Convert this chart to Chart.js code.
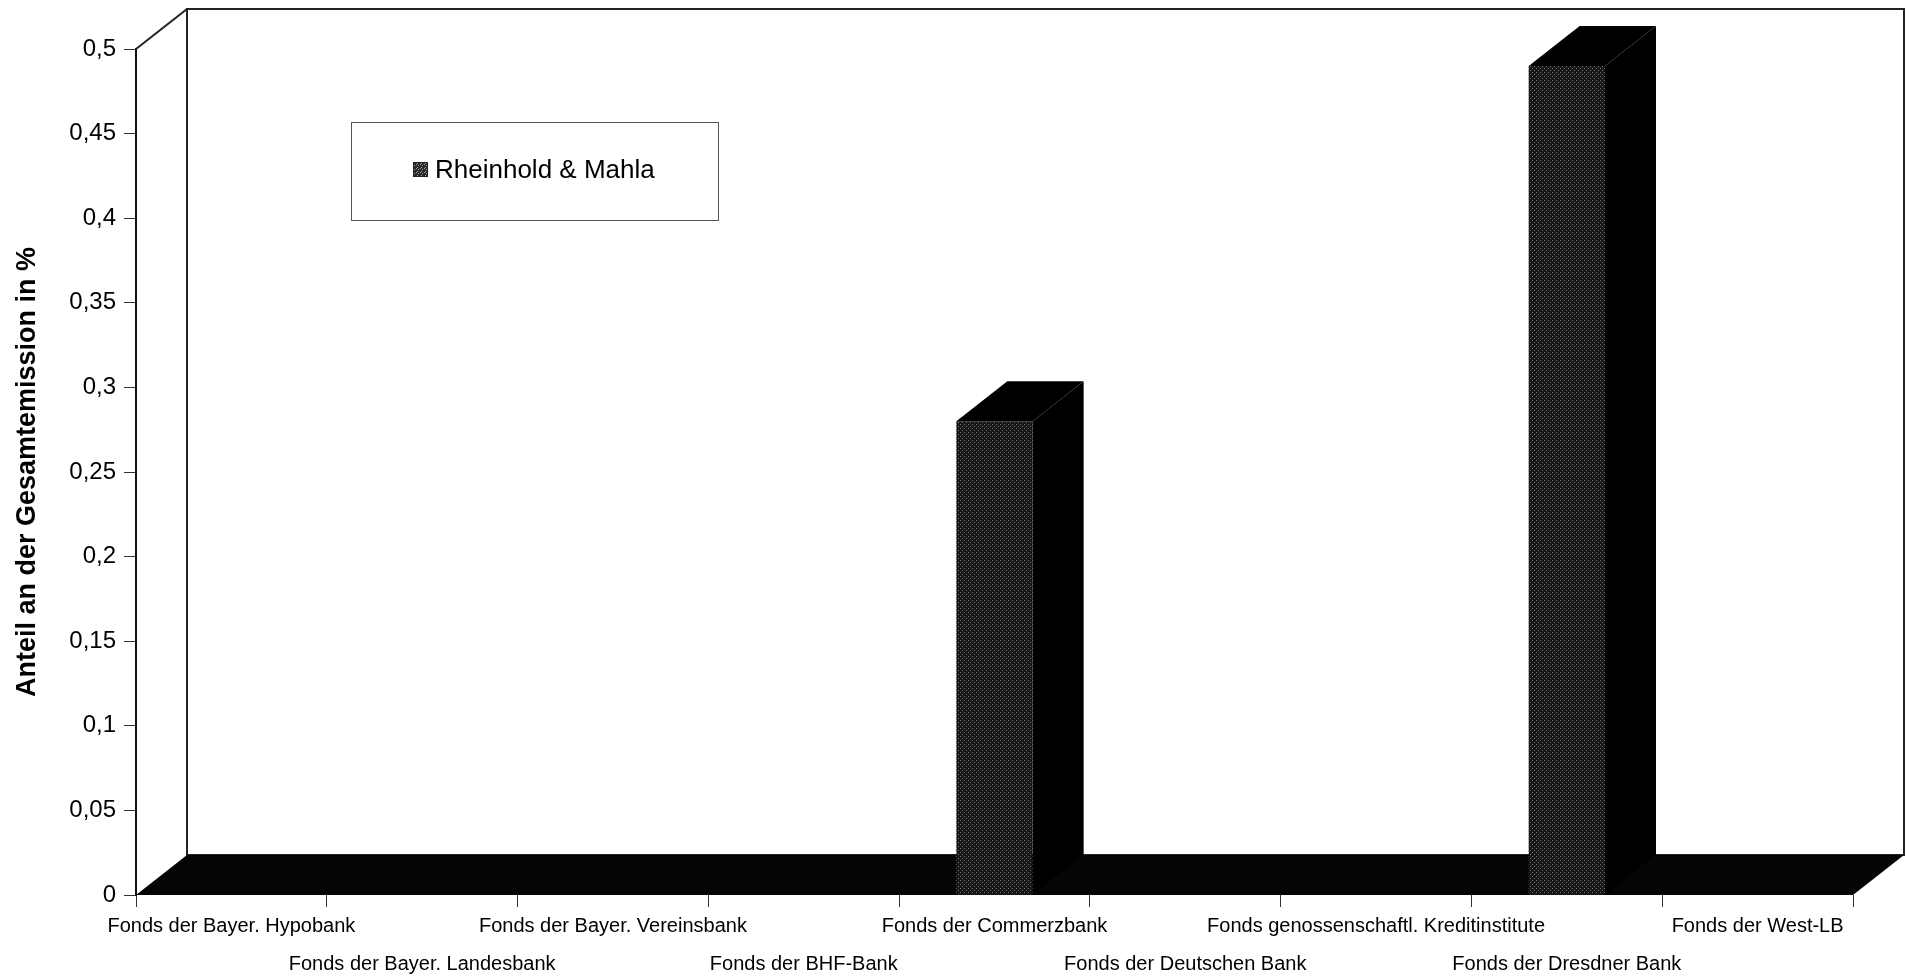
<!DOCTYPE html>
<html>
<head>
<meta charset="utf-8">
<script src="https://cdn.jsdelivr.net/npm/chart.js@4"></script>
<style>
  html, body { margin: 0; padding: 0; background: #fff; }
  #wrap { width: 1913px; height: 974px; position: relative; }
</style>
</head>
<body>
<div id="wrap"><canvas id="chart"></canvas></div>
<script>
// categories (x axis)
var categories = [
  "Fonds der Bayer. Hypobank",
  "Fonds der Bayer. Landesbank",
  "Fonds der Bayer. Vereinsbank",
  "Fonds der BHF-Bank",
  "Fonds der Commerzbank",
  "Fonds der Deutschen Bank",
  "Fonds genossenschaftl. Kreditinstitute",
  "Fonds der Dresdner Bank",
  "Fonds der West-LB"
];
// share of total emission in %
var rheinholdMahla = [0, 0, 0, 0, 0.28, 0, 0, 0.49, 0];
var yTickValues = [0, 0.05, 0.1, 0.15, 0.2, 0.25, 0.3, 0.35, 0.4, 0.45, 0.5];

var FONT = 'Arial, "Liberation Sans", sans-serif';
var depth = { dx: 51, dy: 40 };

var canvas = document.getElementById("chart");
var ctx = canvas.getContext("2d");

// dark speckled fill like the printed bars
function speckle(base, dot, dots) {
    var t = document.createElement("canvas");
    t.width = 4; t.height = 4;
    var c = t.getContext("2d");
    c.fillStyle = base;
    c.fillRect(0, 0, 4, 4);
    c.fillStyle = dot;
    dots.forEach(function(d) { c.fillRect(d[0], d[1], 1, 1); });
    return ctx.createPattern(t, "repeat");
}
var barFill = speckle("#161616", "#7a7a7a", [[0, 0], [2, 2]]);
var legendFill = speckle("#2a2a2a", "#a0a0a0", [[0, 0], [2, 1], [1, 3]]);

var box3d = {
    id: "box3d",
    beforeDatasetsDraw: function(chart) {
        var c = chart.ctx, a = chart.chartArea, dx = depth.dx, dy = depth.dy;
        c.save();
        // back wall
        c.strokeStyle = "#222";
        c.lineWidth = 2;
        c.strokeRect(a.left + dx, a.top - dy, a.right - a.left, a.bottom - a.top);
        // left wall top edge
        c.beginPath();
        c.moveTo(a.left, a.top);
        c.lineTo(a.left + dx, a.top - dy);
        c.stroke();
        // floor
        c.fillStyle = "#050505";
        c.beginPath();
        c.moveTo(a.left, a.bottom);
        c.lineTo(a.right, a.bottom);
        c.lineTo(a.right + dx, a.bottom - dy);
        c.lineTo(a.left + dx, a.bottom - dy);
        c.closePath();
        c.fill();
        c.restore();
    },
    afterDatasetsDraw: function(chart) {
        var c = chart.ctx, dx = depth.dx, dy = depth.dy;
        c.save();
        c.fillStyle = "#000";
        chart.getDatasetMeta(0).data.forEach(function(bar) {
            var p = bar.getProps(["x", "y", "base", "width"], true);
            if (Math.abs(p.base - p.y) < 0.5) return;
            var l = p.x - p.width / 2, r = p.x + p.width / 2;
            // top face
            c.beginPath();
            c.moveTo(l, p.y);
            c.lineTo(l + dx, p.y - dy);
            c.lineTo(r + dx, p.y - dy);
            c.lineTo(r, p.y);
            c.closePath();
            c.fill();
            // side face
            c.beginPath();
            c.moveTo(r, p.y);
            c.lineTo(r + dx, p.y - dy);
            c.lineTo(r + dx, p.base - dy);
            c.lineTo(r, p.base);
            c.closePath();
            c.fill();
        });
        // legend box
        c.fillStyle = "#fff";
        c.fillRect(351, 122, 367, 98);
        c.strokeStyle = "#555";
        c.lineWidth = 1;
        c.strokeRect(351.5, 122.5, 367, 98);
        c.fillStyle = legendFill;
        c.fillRect(413, 162, 15, 15);
        c.strokeStyle = "#222";
        c.strokeRect(413.5, 162.5, 14, 14);
        c.fillStyle = "#000";
        c.font = "26px " + FONT;
        c.textBaseline = "middle";
        c.fillText(chart.data.datasets[0].label, 435, 171);
        c.restore();
    }
};

var chart = new Chart(ctx, {
    type: "bar",
    data: {
        labels: categories,
        datasets: [{
            label: "Rheinhold & Mahla",
            data: rheinholdMahla,
            backgroundColor: barFill,
            borderWidth: 0,
            barPercentage: 0.4,
            categoryPercentage: 1
        }]
    },
    options: {
        responsive: true,
        maintainAspectRatio: false,
        animation: false,
        layout: { padding: { top: 49, right: 60, left: 0, bottom: 0 } },
        plugins: {
            legend: { display: false },
            tooltip: { enabled: false }
        },
        scales: {
            x: {
                offset: true,
                border: { display: false },
                grid: { offset: true, drawOnChartArea: false, drawTicks: true, tickLength: 12, color: "#333", lineWidth: 1 },
                ticks: {
                    autoSkip: false,
                    maxRotation: 0,
                    minRotation: 0,
                    padding: 0,
                    color: "#000",
                    font: { family: FONT, size: 20, lineHeight: 1.9 },
                    callback: function(v, i) {
                        return i % 2 ? ["", categories[i]] : categories[i];
                    }
                },
                afterFit: function(s) { s.height = 79; }
            },
            y: {
                min: 0,
                max: 0.5,
                border: { display: true, color: "#111", width: 2 },
                grid: { drawOnChartArea: false, drawTicks: true, tickLength: 12, color: "#333" },
                afterBuildTicks: function(s) {
                    s.ticks = yTickValues.map(function(v) { return { value: v }; });
                },
                ticks: {
                    padding: 8,
                    color: "#000",
                    font: { family: FONT, size: 24 },
                    callback: function(v) { return String(Number(v.toFixed(2))).replace(".", ","); }
                },
                title: {
                    display: true,
                    text: "Anteil an der Gesamtemission in %",
                    color: "#000",
                    font: { family: FONT, size: 27, weight: "bold" },
                    padding: { top: 11, bottom: 0 }
                },
                afterFit: function(s) { s.width = 136; }
            }
        }
    },
    plugins: [box3d]
});
</script>
</body>
</html>
